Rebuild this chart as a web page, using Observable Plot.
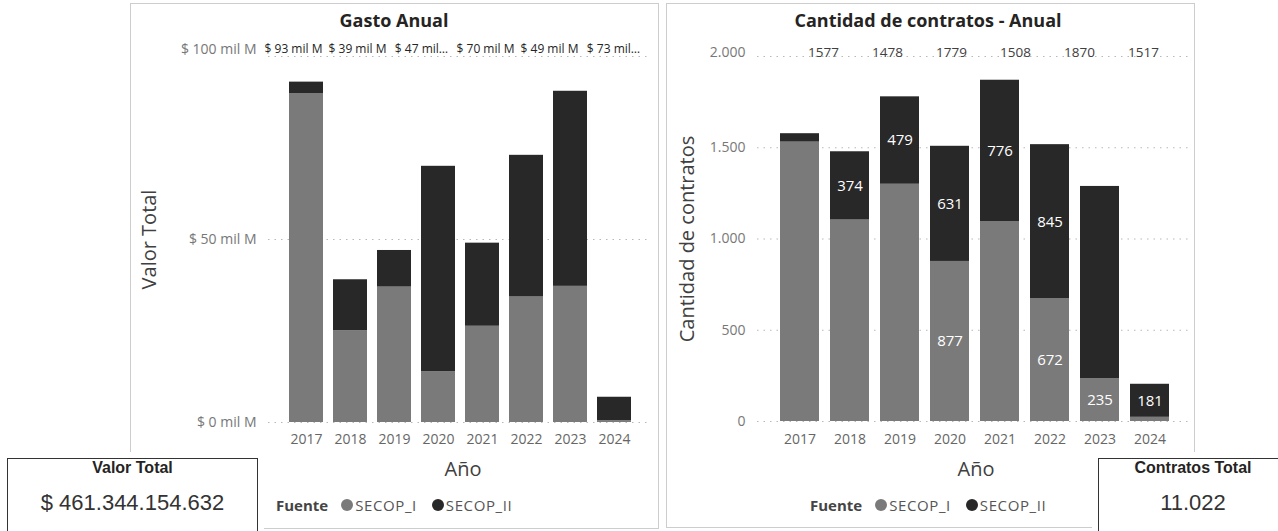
<!DOCTYPE html>
<html><head><meta charset="utf-8">
<script src="https://cdn.jsdelivr.net/npm/d3@7"></script>
<script src="https://cdn.jsdelivr.net/npm/@observablehq/plot@0.6"></script>
<style>
body{margin:0;width:1278px;height:531px;position:relative;background:#fff;font-family:"Open Sans",sans-serif;overflow:hidden}
.panel{position:absolute;border:1.5px solid #cdcdcd;box-sizing:border-box;background:#fff}
.title{position:absolute;font-weight:700;font-size:18px;color:#252423;white-space:nowrap;transform:translateX(-50%);line-height:20px}
.xtitle{position:absolute;font-size:20px;color:#404040;transform:translateX(-50%);line-height:24px}
.legend{position:absolute;font-size:15px;color:#555;white-space:nowrap;line-height:18px;display:flex;align-items:center;font-family:"Open Sans",sans-serif}
.legend b{color:#444;font-size:15px;margin-right:9px}
.legend .dot{display:inline-block;width:12px;height:12px;border-radius:50%;margin-right:2px;margin-left:4px}
.legend span.t{margin-right:3px;letter-spacing:0.6px}
.legend span.t.first{margin-right:11px}
.plotbox{position:absolute}
.kpi{position:absolute;border:1.5px solid #333;background:#fff;box-shadow:0 0 0 6px #fff;box-sizing:border-box;text-align:center;font-family:"Liberation Sans",Arial,sans-serif;color:#252423}
.kpi .h{font-weight:700;font-size:16px;line-height:18px;margin-top:0px}
.kpi .v{font-size:22px;line-height:26px;margin-top:13px;color:#333}
g[aria-label="y-axis label"] text{font-size:20px;fill:#404040}
</style>
</head><body>
<script>
// ---------- data ----------
const years = ["2017","2018","2019","2020","2021","2022","2023","2024"];
const fuentes = ["SECOP_I","SECOP_II"];
const fuenteColors = ["#7a7a7a","#282828"];

// Gasto anual (mil M)
const gastoSecopI  = [89.8, 25.1, 37.0, 13.9, 26.3, 34.3, 37.2, 0.5];
const gastoSecopII = [ 3.2, 13.9, 10.0, 56.1, 22.7, 38.7, 53.3, 6.4];
const gastoTotalLabels = ["$ 93 mil M","$ 39 mil M","$ 47 mil…","$ 70 mil M","$ 49 mil M","$ 73 mil…"];
const gastoTicks = [0, 50, 100];

// Cantidad de contratos
const contratosSecopI  = [1531, 1104, 1300, 877, 1094, 672, 235, 23];
const contratosSecopII = [  46,  374,  479, 631,  776, 845, 1053, 181];
const contratosTotalLabels = ["1577","1478","1779","1508","1870","1517"];
const contratosTicks = [0, 500, 1000, 1500, 2000];
const contratosShownLabels = ["2018|SECOP_II","2019|SECOP_II","2020|SECOP_I","2020|SECOP_II","2021|SECOP_II","2022|SECOP_I","2022|SECOP_II","2023|SECOP_I","2024|SECOP_II"];

const kpiValorTotal = "$ 461.344.154.632";
const kpiContratosTotal = "11.022";

// ---------- helpers ----------
const toLong = (a, b) => years.flatMap((y, i) => [
  {year: y, fuente: fuentes[0], value: a[i]},
  {year: y, fuente: fuentes[1], value: b[i]}
]);
const gastoData = toLong(gastoSecopI, gastoSecopII);
const contratosData = toLong(contratosSecopI, contratosSecopII);
const fmtDots = d => d3.format(",")(d).replace(/,/g, ".");

function el(tag, cls, style, html) {
  const e = document.createElement(tag);
  if (cls) e.className = cls;
  Object.assign(e.style, style || {});
  if (html != null) e.innerHTML = html;
  document.body.appendChild(e);
  return e;
}
function place(node, left, top) {
  const d = el("div", "plotbox", {left: left + "px", top: top + "px"});
  d.appendChild(node);
  return d;
}
function legend(left, top) {
  const d = el("div", "legend", {left: left + "px", top: top + "px"});
  d.innerHTML = `<b>Fuente</b>` + fuentes.map((f, i) =>
    `<span class="dot" style="background:${fuenteColors[i]}"></span><span class="t${i === 0 ? " first" : ""}">${f}</span>`).join("");
}

// ---------- panels ----------
el("div", "panel", {left: "130px", top: "3px", width: "529px", height: "526px"});
el("div", "panel", {left: "666px", top: "3px", width: "529px", height: "525px"});

el("div", "title", {left: "394px", top: "10px"}, "Gasto Anual");
el("div", "title", {left: "928px", top: "10px"}, "Cantidad de contratos - Anual");

const axisStyle = {fontFamily: "Open Sans", fontSize: "14px", background: "transparent", overflow: "visible"};

// ---------- left chart ----------
const left = Plot.plot({
  width: 527, height: 460,
  marginTop: 56, marginBottom: 38, marginLeft: 137, marginRight: 8,
  style: axisStyle,
  x: {domain: years, paddingInner: 0.22, paddingOuter: 0.11, insetLeft: 13, insetRight: 11},
  y: {domain: [0, 100]},
  color: {domain: fuentes, range: fuenteColors},
  marks: [
    Plot.gridY(gastoTicks, {stroke: "#b8b8b8", strokeOpacity: 1, strokeDasharray: "1.5,5"}),
    Plot.barY(gastoData, {x: "year", y: "value", fill: "fuente"}),
    Plot.axisX({tickSize: 0, tickPadding: 12, fill: "#666", label: null}),
    Plot.axisY(gastoTicks.slice(0, 2), {tickSize: 0, tickPadding: 12, fill: "#777", tickFormat: d => `$ ${d} mil M`,
      label: "Valor Total", labelAnchor: "center", labelArrow: "none", labelOffset: 127}),
    Plot.axisY(gastoTicks.slice(2), {tickSize: 0, tickPadding: 12, fill: "#777", tickFormat: d => `$ ${d} mil M`, dy: -7, label: null})
  ]
});
place(left, 131, 0);

const leftTop = Plot.plot({
  width: 395, height: 20, margin: 0,
  style: {fontFamily: "Open Sans", background: "transparent", overflow: "visible"},
  x: {type: "band", domain: years.slice(0, gastoTotalLabels.length), axis: null},
  marks: [Plot.text(gastoTotalLabels, {x: (d, i) => years[i], text: d => d, fill: "#252423", fontSize: 12})]
});
place(leftTop, 255, 39);

// ---------- right chart ----------
const right = Plot.plot({
  width: 527, height: 460,
  marginTop: 56, marginBottom: 39, marginLeft: 90, marginRight: 6,
  style: axisStyle,
  x: {domain: years, paddingInner: 0.22, paddingOuter: 0.11, insetLeft: 16.5, insetRight: 13.5},
  y: {domain: [0, 2000]},
  color: {domain: fuentes, range: fuenteColors},
  marks: [
    Plot.gridY(contratosTicks, {stroke: "#b8b8b8", strokeOpacity: 1, strokeDasharray: "1.5,5"}),
    Plot.barY(contratosData, {x: "year", y: "value", fill: "fuente"}),
    Plot.text(contratosData, Plot.stackY({x: "year", y: "value", z: "fuente",
      text: d => contratosShownLabels.includes(d.year + "|" + d.fuente) ? String(d.value) : "",
      fill: "white", fontSize: 15})),
    Plot.axisX({tickSize: 0, tickPadding: 13, fill: "#666", label: null}),
    Plot.axisY(contratosTicks.slice(0, 4), {tickSize: 0, tickPadding: 12, fill: "#777", tickFormat: fmtDots,
      label: "Cantidad de contratos", labelAnchor: "center", labelArrow: "none", labelOffset: 78}),
    Plot.axisY(contratosTicks.slice(4), {tickSize: 0, tickPadding: 12, fill: "#777", tickFormat: fmtDots, dy: -4, label: null})
  ]
});
place(right, 667, 0);

const rightTop = Plot.plot({
  width: 396, height: 20, margin: 0,
  style: {fontFamily: "Open Sans", background: "transparent", overflow: "visible"},
  x: {type: "band", domain: years.slice(0, contratosTotalLabels.length), axis: null},
  marks: [Plot.text(contratosTotalLabels, {x: (d, i) => years[i], text: d => d, fill: "#404040", fontSize: 13.5})]
});
place(rightTop, 785, 42);

// ---------- axis titles & legends ----------
el("div", "xtitle", {left: "463px", top: "457px"}, "Año");
el("div", "xtitle", {left: "976px", top: "457px"}, "Año");
legend(276, 496);
legend(810, 496);

// ---------- KPI cards ----------
el("div", "kpi", {left: "7px", top: "458px", width: "251px", height: "90px"},
  `<div class="h">Valor Total</div><div class="v">${kpiValorTotal}</div>`);
el("div", "kpi", {left: "1098px", top: "458px", width: "190px", height: "90px"},
  `<div class="h">Contratos Total</div><div class="v">${kpiContratosTotal}</div>`);
</script>
</body></html>
